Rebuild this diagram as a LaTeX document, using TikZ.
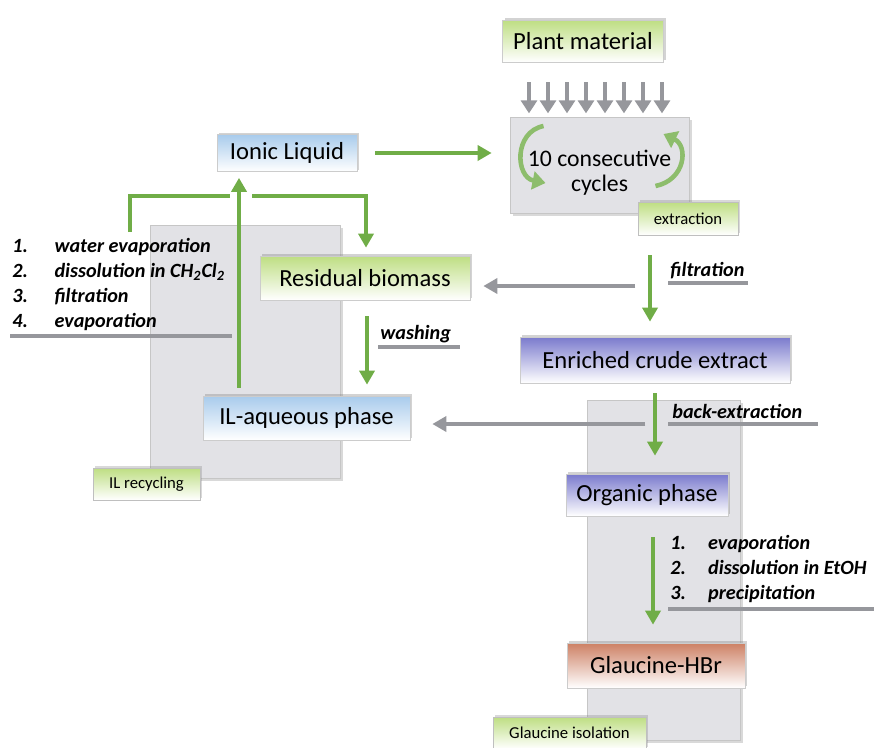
\documentclass[tikz,border=0pt]{standalone}
\usepackage{fontspec}
\setmainfont{Carlito}
\usetikzlibrary{arrows.meta, positioning, calc, shadows}
\definecolor{cFlow}{RGB}{112,173,71}
\definecolor{cGrey}{RGB}{150,151,156}
\definecolor{cPanel}{RGB}{226,226,230}
\definecolor{cGreen}{RGB}{190,222,130}
\definecolor{cBlue}{RGB}{168,203,236}
\definecolor{cViolet}{RGB}{122,122,205}
\definecolor{cRust}{RGB}{205,128,100}
\newcommand{\stepno}[2][24pt]{\makebox[#1][l]{#2}}

\tikzset{
  stagebox/.style={draw=gray!40, top color=#1, bottom color=white, align=center,
    font=\fontsize{14}{16}\selectfont,
    drop shadow={shadow xshift=1.3pt, shadow yshift=1pt, opacity=0.35}},
  tagbox/.style={draw=gray!50, top color=cGreen, bottom color=white,
    font=\fontsize{9.5}{11}\selectfont,
    drop shadow={shadow xshift=1.2pt, shadow yshift=1pt, opacity=0.3}},
  panelbox/.style={draw=gray!45, fill=cPanel,
    drop shadow={shadow xshift=1.5pt, shadow yshift=-1.5pt, opacity=0.3}},
  flow/.style={draw=cFlow, line width=2.2pt, -{Triangle[length=2.8mm, width=3mm]}},
  flowline/.style={draw=cFlow, line width=2.2pt},
  greyflow/.style={draw=cGrey, line width=2.2pt, -{Triangle[length=2.8mm, width=3mm]}},
  feed/.style={draw=cGrey, line width=2.2pt, -{Triangle[length=2.6mm, width=3.2mm]}},
  cyclearrow/.style={draw=cFlow!80, line width=2.6pt, -{Triangle[length=2.6mm, width=3.6mm]}},
  rule/.style={draw=cGrey, line width=1.8pt},
  note/.style={font=\fontsize{11.5}{13}\selectfont\bfseries\itshape, inner sep=0pt},
  steps/.style={note, align=left, font=\fontsize{11.5}{14.2}\selectfont\bfseries\itshape}
}

\begin{document}
\begin{tikzpicture}[x=0.02cm, y=-0.02cm]
  \useasboundingbox (0,0) rectangle (874,747);

  % grey panels behind the two stages
  \node[panelbox, minimum width=3.8cm, minimum height=5.06cm] (recpanel) at (245,351.5) {};
  \node[panelbox, minimum width=3.06cm, minimum height=6.8cm] (isopanel) at (663.5,570) {};

  % extraction
  \node[stagebox=cGreen, minimum width=3.22cm, minimum height=0.84cm] (plant) at (583,41) {Plant material};
  \node[panelbox, minimum width=3.58cm, minimum height=1.92cm, align=center,
    font=\fontsize{13.5}{14}\selectfont] (extract) at (599.5,165) {\rule{0pt}{18pt}10 consecutive\\cycles};
  \node[tagbox, minimum width=2cm, minimum height=0.66cm] (tagext) at (688,218.5) {extraction};
  \foreach \i in {0,...,7}
    \draw[feed] ($(plant.south)+({-54+19*\i},20)$) -- ++(0,31);
  \draw[cyclearrow] ($(extract.center)+(-56,-39)$) .. controls +(-30,6) and +(-30,-6) .. ($(extract.center)+(-54,18)$);
  \draw[cyclearrow] ($(extract.center)+(56,21)$) .. controls +(30,-6) and +(25,12) .. ($(extract.center)+(64,-31)$);

  \node[stagebox=cBlue, minimum width=2.8cm, minimum height=0.74cm] (ionic) at (287,153) {Ionic Liquid};
  \draw[flow] ($(ionic.east)+(18,0)$) -- ($(ionic.east -| extract.west)+(-18,0)$);

  % IL recycling
  \node[steps, anchor=north west] (ilsteps) at (12,238)
    {\stepno{1.}water evaporation\\ \stepno{2.}dissolution in CH\textsubscript{2}Cl\textsubscript{2}\\
     \stepno{3.}filtration\\ \stepno{4.}evaporation};
  \draw[rule] ($(ilsteps.south west)+(-2,5)$) -- ++(222,0);

  \node[stagebox=cGreen, minimum width=4.2cm, minimum height=0.88cm] (residual) at (365,278) {Residual biomass};
  \node[stagebox=cBlue, minimum width=4.14cm, minimum height=0.88cm] (ilaq) at (306.5,418) {IL-aqueous phase};
  \node[tagbox, minimum width=2.14cm, minimum height=0.64cm] (tagrec) at (146.5,484) {IL recycling};

  \coordinate (joinL) at (230,196);
  \coordinate (joinR) at (252,196);
  \coordinate (upx) at (239,0);
  \draw[flowline] ([shift={(118,-6)}]ilsteps.north west) |- (joinL);
  \draw[flow] (joinR) -| ($(residual.north)+(1,-8)$);
  \draw[flow] ($(ilaq.north -| upx)+(0,-8)$) -- ($(ionic.south -| upx)+(0,6)$);

  \draw[flow] ($(residual.south)+(2,16)$) -- ($(residual.south |- ilaq.north)+(2,-11)$);
  \node[note, anchor=base west] (washlbl) at (380,339) {washing};
  \draw[rule] ($(washlbl.base west)+(-2,8)$) -- ++(82,0);

  % enriched extract
  \node[stagebox=cViolet, minimum width=5.4cm, minimum height=0.92cm] (crude) at (655,360) {Enriched crude extract};
  \draw[flow] ($(tagext.south)+(-38,20)$) -- ($(tagext.south |- crude.north)+(-38,-15)$);
  \node[note, anchor=base west] (filtlbl) at (670,276) {filtration};
  \draw[rule] ($(filtlbl.base west)+(-2,7)$) -- ++(80,0);
  \draw[greyflow] ($(residual.east)+(165,8)$) -- ($(residual.east)+(13,8)$);

  % glaucine isolation
  \node[stagebox=cViolet, minimum width=3.24cm, minimum height=0.84cm] (organic) at (647,495) {Organic phase};
  \draw[flow] ($(crude.south)+(0,10)$) -- ($(crude.south |- organic.north)+(0,-18)$);
  \node[note, anchor=base west] (backlbl) at (672,418) {back-extraction};
  \draw[rule] ($(backlbl.base west)+(-4,6)$) -- ++(150,0);
  \draw[greyflow] ($(ilaq.east)+(235,6)$) -- ($(ilaq.east)+(22,6)$);

  \node[stagebox=cRust, minimum width=3.56cm, minimum height=0.9cm] (glaucine) at (656,665.5) {Glaucine-HBr};
  \draw[flow] ($(organic.south)+(6,21)$) -- ($(organic.south |- glaucine.north)+(6,-18)$);
  \node[steps, anchor=north west] (glsteps) at (670,535)
    {\stepno[21.5pt]{1.}evaporation\\ \stepno[21.5pt]{2.}dissolution in EtOH\\ \stepno[21.5pt]{3.}precipitation};
  \draw[rule] ($(glsteps.south west)+(-2,6)$) -- ++(206,0);
  \node[tagbox, minimum width=3.06cm, minimum height=0.64cm] (tagiso) at (569.5,733) {Glaucine isolation};
\end{tikzpicture}
\end{document}
